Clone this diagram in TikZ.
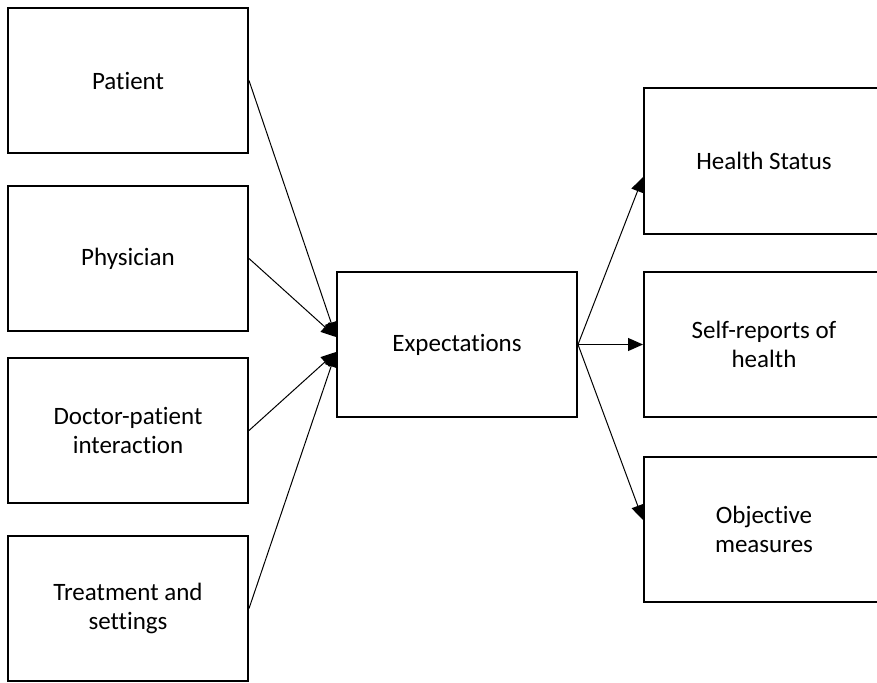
\documentclass[tikz,border=0pt]{standalone}
\usepackage{fontspec}
\setmainfont[Ligatures=NoCommon]{Carlito}
\usetikzlibrary{arrows.meta}
\begin{document}
\begin{tikzpicture}[x=1pt,y=-1pt,
  box/.style={draw=black,line width=2pt,minimum width=240pt,minimum height=145pt,
    inner sep=0pt,align=center,font=\fontsize{25}{29}\selectfont},
  conn/.style={line width=1pt,-{Triangle[length=15pt,width=13pt]}}]
\useasboundingbox (0,0) rectangle (877,682);
\node[box] (pat) at (128,80.5) {Patient};
\node[box] (phy) at (128,258.5) {Physician};
\node[box] (doc) at (128,430.5) {Doctor-patient\\interaction};
\node[box] (trt) at (128,608.5) {Treatment and\\settings};
\node[box] (exp) at (457,344.5) {Expectations};
\node[box] (hs) at (764,161) {Health Status};
\node[box] (sr) at (764,344.5) {Self-reports of\\health};
\node[box] (om) at (764,529) {Objective\\measures};
\coordinate (inA) at ([yshift=7.5pt]exp.west);
\coordinate (inB) at ([yshift=-7.5pt]exp.west);
\coordinate (outA) at ([yshift=-16pt]hs.west);
\coordinate (outC) at ([yshift=9pt]om.west);
\draw[conn] (pat.east) -- (inA);
\draw[conn] (phy.east) -- (inA);
\draw[conn] (doc.east) -- (inB);
\draw[conn] (trt.east) -- (inB);
\draw[conn] (exp.east) -- (outA);
\draw[conn] (exp.east) -- (sr.west);
\draw[conn] (exp.east) -- (outC);
\end{tikzpicture}
\end{document}
